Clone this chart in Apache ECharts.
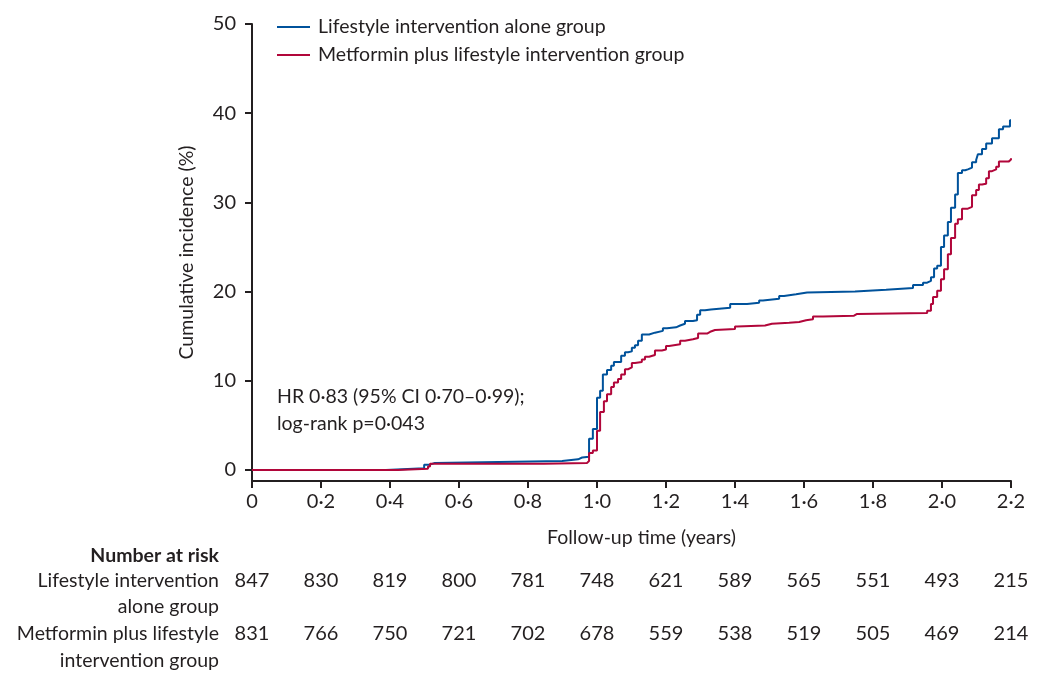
<!DOCTYPE html>
<html><head><meta charset="utf-8">
<script src="https://cdn.jsdelivr.net/npm/echarts@6/dist/echarts.min.js"></script>
<style>html,body{margin:0;padding:0;background:#fff}#c{width:1042px;height:684px}</style>
</head><body><div id="c"></div>
<script>
// ---- data ----
const seriesNames = ['Lifestyle intervention alone group', 'Metformin plus lifestyle intervention group'];
const lifestyleT = [0,0.388,0.499,0.516,0.530,0.899,0.945,0.957,0.977,0.988,1.000,1.009,1.017,1.029,1.041,1.049,1.070,1.081,1.090,1.101,1.110,1.119,1.130,1.151,1.168,1.191,1.203,1.229,1.241,1.255,1.278,1.290,1.299,1.313,1.330,1.386,1.435,1.470,1.481,1.528,1.542,1.577,1.609,1.748,1.838,1.916,1.945,1.957,1.968,1.977,1.986,1.997,2.006,2.017,2.026,2.038,2.046,2.058,2.067,2.075,2.087,2.099,2.104,2.116,2.128,2.145,2.165,2.177,2.197,2.2];
const lifestyleV = [0,0.2,0.6,0.8,1.0,1.2,1.4,1.5,3.5,4.6,8.1,8.9,10.7,11.2,11.7,12.1,12.8,13.2,13.3,13.7,14.0,14.5,15.2,15.4,15.6,15.9,16.0,16.2,16.4,16.7,16.8,17.4,17.9,18.0,18.2,18.6,18.75,19.0,19.2,19.5,19.7,19.9,20.0,20.2,20.4,20.75,21.0,21.2,21.6,22.6,22.9,25.0,26.3,27.8,29.4,30.9,33.3,33.6,33.7,33.9,34.5,34.75,35.4,36.0,36.6,37.2,38.2,38.5,39.2,39.2];
const metforminT = [0,0.423,0.510,0.516,0.846,0.971,0.977,0.988,1.000,1.009,1.020,1.029,1.041,1.049,1.061,1.070,1.081,1.090,1.101,1.110,1.130,1.139,1.151,1.168,1.188,1.200,1.209,1.241,1.255,1.278,1.293,1.319,1.328,1.342,1.400,1.406,1.487,1.507,1.557,1.586,1.606,1.626,1.655,1.745,1.754,1.957,1.968,1.974,1.986,1.997,2.006,2.017,2.026,2.038,2.046,2.058,2.075,2.087,2.099,2.107,2.116,2.128,2.136,2.145,2.157,2.165,2.194,2.2];
const metforminV = [0,0.15,0.4,0.7,0.8,1.0,1.9,2.2,4.4,6.5,7.7,8.5,9.3,9.8,10.2,10.7,11.3,11.5,12.0,12.1,12.4,12.7,12.9,13.4,13.5,13.9,14.1,14.5,14.65,14.8,15.3,15.5,15.7,15.8,16.1,16.2,16.4,16.5,16.6,16.8,16.9,17.2,17.3,17.5,17.6,17.85,18.6,19.4,20.1,21.4,22.5,24.2,26.0,27.6,28.1,29.3,29.5,30.8,31.4,32.0,32.1,32.7,33.5,33.7,34.0,34.6,34.8,34.95];
const xTickLabels = ['0','0·2','0·4','0·6','0·8','1·0','1·2','1·4','1·6','1·8','2·0','2·2'];
const yTicks = [0,10,20,30,40,50];
const riskTimes = [0,0.2,0.4,0.6,0.8,1.0,1.2,1.4,1.6,1.8,2.0,2.2];
const riskLifestyle = [847,830,819,800,781,748,621,589,565,551,493,215];
const riskMetformin = [831,766,750,721,702,678,559,538,519,505,469,214];
const riskRowLabels = [['Lifestyle intervention','alone group'],['Metformin plus lifestyle','intervention group']];
const annotation = ['HR 0·83 (95% CI 0·70–0·99);','log-rank p=0·043'];

// ---- chart ----
const FONT = 'Lato, "Open Sans", sans-serif';
const TXT = '#231f20';
const FS = 19.5;   // words
const FN = 20;     // numbers
const zip = (t, v) => t.map((x, i) => [x, v[i]]);
const chart = echarts.init(document.getElementById('c'), null, {renderer: 'canvas'});
const option = {
  animation: false,
  backgroundColor: '#fff',
  textStyle: {fontFamily: FONT, color: TXT},
  grid: {left: 252, right: 31, top: 24, bottom: 203, containLabel: false},
  legend: {
    data: seriesNames, orient: 'vertical', left: 272, top: 12, itemWidth: 33, itemHeight: 2,
    itemGap: 8, icon: 'rect',
    textStyle: {fontFamily: FONT, fontSize: FS, color: TXT, lineHeight: 20, padding: [0, 0, 0, 3]}
  },
  xAxis: {
    type: 'value', min: 0, max: 2.2, interval: 0.2,
    name: 'Follow-up time (years)', nameLocation: 'middle', nameGap: 47,
    nameTextStyle: {fontFamily: FONT, fontSize: FS, color: TXT, padding: [0, 0, 0, 20]},
    axisLine: {show: true, onZero: false, lineStyle: {color: TXT, width: 2}},
    axisTick: {show: true, length: 7, lineStyle: {color: TXT, width: 2}},
    axisLabel: {margin: 11, fontFamily: FONT, fontSize: FN, color: TXT,
      formatter: v => xTickLabels[Math.round(v / 0.2)]},
    splitLine: {show: false}
  },
  yAxis: {
    type: 'value', min: -1.23, max: 50,
    name: 'Cumulative incidence (%)', nameLocation: 'middle', nameGap: 55, nameRotate: 90,
    nameTextStyle: {fontFamily: FONT, fontSize: FS, color: TXT},
    axisLine: {show: true, lineStyle: {color: TXT, width: 2}},
    axisTick: {show: true, length: 7, customValues: yTicks, lineStyle: {color: TXT, width: 2}},
    axisLabel: {margin: 16, customValues: yTicks, fontFamily: FONT, fontSize: FN, color: TXT},
    splitLine: {show: false}
  },
  series: [
    {name: seriesNames[0], type: 'line', step: 'end', symbol: 'none', data: zip(lifestyleT, lifestyleV),
      itemStyle: {color: '#00529b'}, lineStyle: {color: '#00529b', width: 2}},
    {name: seriesNames[1], type: 'line', step: 'end', symbol: 'none', data: zip(metforminT, metforminV),
      itemStyle: {color: '#b1063a'}, lineStyle: {color: '#b1063a', width: 2}}
  ]
};
chart.setOption(option);

const g = [];
const txt = (x, y, s, align, extra) => g.push({type: 'text', x: x, y: y, silent: true,
  style: Object.assign({text: s, fontFamily: FONT, fontSize: FS, fill: TXT, align: align, verticalAlign: 'middle'}, extra || {})});
txt(277, 397, annotation[0], 'left');
txt(277, 424, annotation[1], 'left');
txt(219, 556, 'Number at risk', 'right', {fontWeight: 'bold'});
txt(219, 581, riskRowLabels[0][0], 'right');
txt(219, 607, riskRowLabels[0][1], 'right');
txt(219, 634, riskRowLabels[1][0], 'right');
txt(219, 661, riskRowLabels[1][1], 'right');
riskTimes.forEach((t, i) => {
  const px = chart.convertToPixel({xAxisIndex: 0}, t);
  txt(px, 581, String(riskLifestyle[i]), 'center', {fontSize: FN});
  txt(px, 634, String(riskMetformin[i]), 'center', {fontSize: FN});
});
chart.setOption({graphic: {elements: g}});
</script>
</body></html>
